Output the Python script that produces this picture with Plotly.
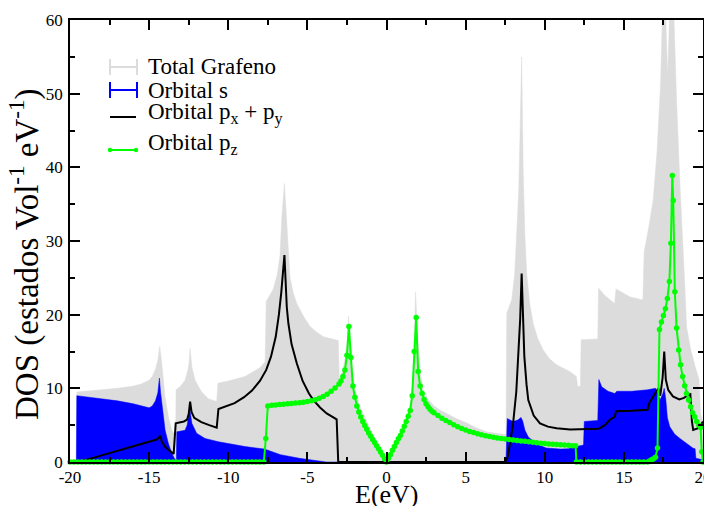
import plotly.graph_objects as go

# ---------------- data ----------------
E_total = [-20.0, -19.6, -19.57, -18.5, -17.0, -16.0, -15.5, -15.0, -14.8, -14.6, -14.45, -14.33,
           -14.2, -14.0, -13.78, -13.57, -13.42, -13.32, -13.3, -13.05, -12.73, -12.55, -12.48,
           -12.41, -12.3, -12.1, -11.68, -11.26, -10.73, -10.65, -10.0, -8.94, -8.0, -7.67, -7.6,
           -7.15, -6.9, -6.73, -6.62, -6.45, -6.3, -6.1, -5.9, -5.67, -5.2, -4.83, -4.4, -3.99,
           -3.15, -3.05, -2.98, -2.75, -2.6, -2.5, -2.4, -2.3, -2.2, -2.1, -2.0, -1.75, -1.47,
           -1.0, -0.62, -0.3, 0.0, 0.3, 0.6, 1.0, 1.3, 1.5, 1.65, 1.75, 1.84, 1.95, 2.01, 2.15,
           2.33, 2.6, 2.96, 3.4, 3.8, 4.4, 5.07, 5.7, 6.33, 7.0, 7.55, 7.6, 7.91, 8.1, 8.22, 8.35,
           8.43, 8.54, 8.64, 8.75, 8.86, 9.05, 9.27, 9.55, 9.9, 10.3, 10.75, 11.2, 11.6, 12.0,
           12.08, 12.25, 12.3, 13.35, 13.4, 13.8, 14.3, 14.42, 14.5, 15.0, 15.4, 16.2, 16.28,
           16.54, 16.85, 17.1, 17.32, 17.45, 17.55, 17.65, 17.76, 17.85, 17.95, 18.08, 18.16,
           18.33, 18.54, 18.71, 18.85, 18.96, 19.2, 19.5, 19.75, 19.85, 20.0]
total = [0.0, 0.0, 9.5, 9.7, 10.0, 10.3, 10.6, 11.1, 11.6, 12.6, 13.8, 15.7,
         13.4, 8.9, 6.15, 4.3, 3.9, 3.9, 9.8, 10.2, 11.1, 12.5, 13.4,
         15.4, 12.9, 11.1, 9.5, 8.6, 8.2, 10.7, 11.0, 11.6, 12.8, 13.6, 21.8,
         23.5, 25.5, 28.0, 33.0, 37.8, 31.9, 25.1, 23.0, 21.5, 19.6, 18.4, 17.6, 17.0,
         16.55, 16.5, 11.3, 12.5, 14.3, 16.0, 19.8, 16.5, 13.5, 11.5, 10.0, 7.9, 6.6,
         4.3, 2.6, 1.2, 0.0, 1.3, 2.8, 4.7, 6.3, 7.8, 11.0, 16.5, 23.1, 17.5, 15.6, 12.0,
         9.8, 8.6, 7.7, 7.0, 6.6, 5.9, 5.3, 4.6, 4.1, 3.85, 3.7, 20.2, 22.0, 25.5, 30.1, 36.5,
         43.7, 55.0, 39.2, 30.5, 25.6, 21.5, 18.8, 16.8, 15.2, 14.0, 13.2, 12.7, 12.25, 11.6,
         10.2, 10.3, 16.6, 16.7, 23.6, 22.6, 21.8, 21.5, 23.5, 22.9, 22.4, 22.0, 28.5,
         31.5, 35.5, 42.3, 51.4, 62.0, 66.0, 60.0, 52.5, 58.0, 66.0, 66.0, 60.0,
         49.1, 37.8, 31.0, 24.0, 18.4, 15.5, 13.0, 11.2, 6.5, 5.5]

E_s = [-20.0, -19.6, -19.57, -18.0, -17.0, -16.0, -15.5, -15.0, -14.8, -14.6, -14.45, -14.35,
       -14.28, -14.2, -13.99, -13.78, -13.57, -13.36, -13.28, -13.25, -12.73, -12.6, -12.52,
       -12.43, -12.35, -12.3, -12.0, -11.47, -10.62, -8.94, -7.7, -6.7, -5.5, -4.5, -3.8,
       7.55, 7.63, 8.0, 8.3, 8.5, 8.6, 8.75, 8.96, 9.5, 10.1, 11.0, 11.5, 12.0, 12.45, 12.5,
       13.35, 13.42, 13.6, 14.0, 14.43, 14.55, 15.5, 16.5, 17.0, 17.15, 17.28, 17.45, 17.55,
       17.65, 17.75, 17.9, 18.2, 18.54, 19.0, 19.38, 19.5, 19.55, 20.0]
s_orb = [0.0, 0.0, 9.0, 8.6, 8.3, 7.9, 7.6, 7.35, 7.6, 8.3, 9.4, 11.4,
         9.5, 8.0, 4.3, 2.5, 1.2, 0.3, 0.2, 4.1, 4.3, 5.0, 5.9,
         7.2, 6.0, 5.25, 3.9, 3.2, 2.75, 2.1, 1.75, 1.0, 0.5, 0.15, 0.0,
         0.0, 5.9, 5.5, 5.7, 6.05, 5.6, 4.3, 3.4, 2.4, 1.9, 1.75, 1.8, 2.1, 2.3, 5.5,
         5.65, 11.2, 10.2, 9.6, 9.3, 9.6, 9.6, 9.8, 10.0, 9.4, 8.4, 9.2, 10.0,
         8.5, 6.0, 4.8, 3.8, 3.2, 2.4, 1.86, 1.8, 0.5, 0.3]

E_pxy = [-20.0, -19.25, -18.0, -17.0, -16.0, -15.0, -14.52, -14.38, -14.31, -14.2, -14.0,
         -13.8, -13.6, -13.45, -13.32, -12.8, -12.6, -12.5, -12.41, -12.32, -12.15, -11.7,
         -11.2, -10.73, -10.62, -10.2, -9.6, -9.0, -8.5, -8.0, -7.6, -7.3, -7.0, -6.8, -6.65,
         -6.45, -6.3, -6.2, -6.0, -5.67, -5.3, -4.9, -4.62, -4.2, -3.78, -3.15, -3.05,
         7.5, 7.65, 7.8, 8.0, 8.2, 8.33, 8.45, 8.54, 8.62, 8.71, 8.85, 8.96, 9.3, 9.7, 10.2,
         10.75, 11.6, 12.5, 13.4, 13.8, 14.1, 14.43, 14.5, 15.5, 16.5, 16.6, 17.0, 17.18,
         17.3, 17.45, 17.55, 17.65, 17.8, 18.1, 18.5, 18.8, 19.07, 19.2, 19.3, 19.38, 19.7, 20.0]
pxy = [0.0, 0.1, 0.9, 1.5, 2.1, 2.7, 3.05, 3.3, 3.6, 2.8, 2.1,
       1.7, 1.35, 1.1, 5.25, 5.5, 5.75, 6.5, 8.2, 6.8, 6.0, 5.4,
       5.0, 4.65, 7.2, 7.5, 8.0, 8.8, 9.7, 11.0, 12.5, 14.3, 17.0, 20.0, 23.0,
       28.1, 21.0, 18.8, 16.0, 13.4, 11.0, 9.3, 8.4, 7.4, 6.6, 5.8, 0.0,
       0.0, 0.6, 2.5, 5.25, 9.5, 14.3, 19.5, 25.6, 19.5, 14.3, 10.5, 8.4, 6.3, 5.25, 4.8,
       4.57, 4.4, 4.4, 4.5, 5.0, 5.7, 6.15, 6.9, 6.95, 7.1, 8.0, 9.3, 10.0,
       9.0, 11.5, 15.0, 11.2, 9.8, 8.9, 8.5, 8.7, 9.1, 9.2, 5.5, 4.35, 4.6, 5.5]

E_pz = [-20.0, -19.75, -19.5, -19.25, -19.0, -18.75, -18.5, -18.25, -18.0, -17.75, -17.5,
        -17.25, -17.0, -16.75, -16.5, -16.25, -16.0, -15.75, -15.5, -15.25, -15.0, -14.75,
        -14.5, -14.25, -14.0, -13.75, -13.5, -13.25, -13.0, -12.75, -12.5, -12.25, -12.0,
        -11.75, -11.5, -11.25, -11.0, -10.75, -10.5, -10.25, -10.0, -9.75, -9.5, -9.25, -9.0,
        -8.75, -8.5, -8.25, -8.0, -7.75,
        -7.625, -7.5, -7.25, -7.0, -6.75, -6.5, -6.25, -6.0, -5.75, -5.5, -5.25, -5.0, -4.75,
        -4.5, -4.25, -4.0, -3.75, -3.5, -3.25, -3.0, -2.875, -2.75, -2.625, -2.5, -2.375,
        -2.25, -2.125, -2.0, -1.875, -1.75, -1.625, -1.5, -1.375, -1.25, -1.125, -1.0,
        -0.875, -0.75, -0.625, -0.5, -0.375, -0.25, -0.125, 0.0,
        0.125, 0.25, 0.375, 0.5, 0.625, 0.75, 0.875, 1.0, 1.125, 1.25, 1.375, 1.5, 1.625,
        1.75, 1.875, 2.0, 2.125, 2.25, 2.375, 2.5, 2.625, 2.75, 2.875, 3.0, 3.25, 3.5, 3.75,
        4.0, 4.25, 4.5, 4.75, 5.0, 5.25, 5.5, 5.75, 6.0, 6.25, 6.5, 6.75, 7.0, 7.25, 7.5,
        7.75, 8.0, 8.25, 8.5, 8.75, 9.0, 9.25, 9.5, 9.75, 10.0, 10.25, 10.5, 10.75, 11.0,
        11.25, 11.5, 11.75, 11.95, 12.0,
        12.25, 12.5, 12.75, 13.0, 13.25, 13.5, 13.75, 14.0, 14.25, 14.5, 14.75, 15.0, 15.25,
        15.5, 15.75, 16.0, 16.25, 16.5,
        16.625, 16.75, 16.875, 17.0, 17.125, 17.25, 17.375, 17.5, 17.625, 17.75, 17.875,
        17.97, 18.06, 18.12, 18.22, 18.33, 18.46, 18.58, 18.71, 18.84, 18.96, 19.09, 19.22,
        19.34, 19.47, 19.6, 19.74, 19.85, 19.92, 20.0]
pz = [0.0, 0.0, 0.0, 0.0, 0.0, 0.0, 0.0, 0.0, 0.0, 0.0, 0.0,
      0.0, 0.0, 0.0, 0.0, 0.0, 0.0, 0.0, 0.0, 0.0, 0.0, 0.0,
      0.0, 0.0, 0.0, 0.0, 0.0, 0.0, 0.0, 0.0, 0.0, 0.0, 0.0,
      0.0, 0.0, 0.0, 0.0, 0.0, 0.0, 0.0, 0.0, 0.0, 0.0, 0.0, 0.0,
      0.0, 0.0, 0.0, 0.0, 0.0,
      3.2, 7.6, 7.7, 7.75, 7.8, 7.85, 7.9, 7.95, 8.0, 8.05, 8.12, 8.2, 8.3,
      8.45, 8.65, 8.9, 9.2, 9.6, 10.05, 10.6, 11.0, 11.6, 12.5, 14.5, 18.4,
      14.2, 10.3, 8.8, 7.6, 6.8, 6.1, 5.5, 4.95, 4.45, 3.95, 3.5,
      3.05, 2.65, 2.2, 1.8, 1.35, 0.9, 0.45, 0.0,
      0.5, 1.0, 1.6, 2.1, 2.65, 3.15, 3.6, 4.2, 4.85, 5.5, 6.2, 7.0, 9.0,
      15.0, 19.6, 12.3, 10.3, 9.3, 8.5, 7.9, 7.5, 7.15, 6.9, 6.7, 6.3, 5.95, 5.65,
      5.35, 5.05, 4.8, 4.55, 4.35, 4.15, 4.0, 3.85, 3.7, 3.58, 3.46, 3.36, 3.27, 3.2, 3.12,
      3.05, 2.98, 2.92, 2.86, 2.8, 2.74, 2.68, 2.62, 2.56, 2.5, 2.46, 2.42, 2.38, 2.34,
      2.3, 2.26, 2.22, 2.2, 0.0,
      0.0, 0.0, 0.0, 0.0, 0.0, 0.0, 0.0, 0.0, 0.0, 0.0, 0.0, 0.0, 0.0,
      0.0, 0.0, 0.0, 0.0, 0.0,
      0.15, 0.3, 0.45, 0.65, 1.9, 18.0, 19.0, 19.9, 20.8, 22.2, 24.5,
      29.7, 38.9, 35.5, 23.1, 18.2, 15.2, 13.2, 11.6, 10.35, 9.3, 8.4, 7.5,
      6.7, 6.15, 5.5, 5.0, 4.7, 1.4, 0.0]

x_tickvals = [-20, -15, -10, -5, 0, 5, 10, 15, 20]
x_ticktext = ["-20", "-15", "-10", "-5", "0", "5", "10", "15", "20"]
x_minor = [-17.5, -12.5, -7.5, -2.5, 2.5, 7.5, 12.5, 17.5]
y_tickvals = [0, 10, 20, 30, 40, 50, 60]
y_ticktext = ["0", "10", "20", "30", "40", "50", "60"]
y_minor = [5, 15, 25, 35, 45, 55]

x_title = "E(eV)"
y_title = "DOS (estados Vol<sup>-1</sup> eV<sup>-1</sup>)"
legend_labels = ["Total Grafeno", "Orbital s",
                 "Orbital p<sub>x</sub> + p<sub>y</sub>", "Orbital p<sub>z</sub>"]

GRAY = "#dcdcdc"
BLUE = "#0000ff"
GREEN = "#00ff00"
FONT = "Liberation Serif"

fig = go.Figure()
fig.add_trace(go.Scatter(x=E_total, y=total, mode="lines", fill="tozeroy",
                         line=dict(color=GRAY, width=0.5), fillcolor=GRAY,
                         name=legend_labels[0], showlegend=False))
fig.add_trace(go.Scatter(x=E_s, y=s_orb, mode="lines", fill="tozeroy",
                         line=dict(color=BLUE, width=0.5), fillcolor=BLUE,
                         name=legend_labels[1], showlegend=False))
fig.add_trace(go.Scatter(x=E_pxy, y=pxy, mode="lines",
                         line=dict(color="black", width=2),
                         name=legend_labels[2], showlegend=False))
fig.add_trace(go.Scatter(x=E_pz, y=pz, mode="lines+markers",
                         line=dict(color=GREEN, width=2),
                         marker=dict(color=GREEN, size=5.5, line=dict(width=0)),
                         cliponaxis=False,
                         name=legend_labels[3], showlegend=False))

# The page shows the figure offset by the 8px body margin.
OFF = 8
W, H = 712 - OFF, 506 - OFF
# plot area on screen: x 70..703, y 20..462
L, R, T, B = 70 - OFF, 712 - 703, 20 - OFF, 506 - 462
pw, ph = W - L - R, H - T - B


def px(x):
    return (x - OFF - L) / pw


def py(y):
    return (H - B - (y - OFF)) / ph


shapes = []
# legend symbols (screen pixel positions)
for yy, col in [(67, GRAY), (90, BLUE)]:
    shapes.append(dict(type="line", xref="paper", yref="paper", x0=px(110), x1=px(137),
                       y0=py(yy), y1=py(yy), line=dict(color=col, width=2)))
    for xx in (110, 137):
        shapes.append(dict(type="line", xref="paper", yref="paper", x0=px(xx), x1=px(xx),
                           y0=py(yy - 8), y1=py(yy + 8), line=dict(color=col, width=2)))
shapes.append(dict(type="line", xref="paper", yref="paper", x0=px(110), x1=px(136),
                   y0=py(117), y1=py(117), line=dict(color="black", width=2)))
shapes.append(dict(type="line", xref="paper", yref="paper", x0=px(110), x1=px(136),
                   y0=py(150), y1=py(150), line=dict(color=GREEN, width=2)))
for xx in (110, 136):
    shapes.append(dict(type="circle", xref="paper", yref="paper", x0=px(xx - 2.2),
                       x1=px(xx + 2.2), y0=py(150 + 2.2), y1=py(150 - 2.2),
                       fillcolor=GREEN, line=dict(color=GREEN, width=0)))

annotations = []
for lab, yy in zip(legend_labels, [67, 90, 113, 144]):
    annotations.append(dict(text=lab, xref="paper", yref="paper", x=px(146), y=py(yy),
                            xanchor="left", yanchor="middle", showarrow=False,
                            font=dict(family=FONT, size=23, color="black")))
# axis titles
annotations.append(dict(text=y_title, xref="paper", yref="paper", x=px(24), y=py(254),
                        xanchor="center", yanchor="middle", textangle=-90, showarrow=False,
                        font=dict(family=FONT, size=33, color="black")))
annotations.append(dict(text=x_title, xref="paper", yref="paper", x=px(387), y=py(494),
                        xanchor="center", yanchor="middle", showarrow=False,
                        font=dict(family=FONT, size=26, color="black")))

axis_common = dict(showline=True, linecolor="black", linewidth=1.5, mirror="ticks",
                   ticks="inside", ticklen=10, tickwidth=1.5, tickcolor="black",
                   showgrid=False, zeroline=False,
                   tickfont=dict(family=FONT, size=17, color="black"))

fig.update_layout(
    width=W, height=H,
    margin=dict(l=L, r=R, t=T, b=B, autoexpand=False),
    paper_bgcolor="white", plot_bgcolor="white",
    showlegend=False,
    shapes=shapes, annotations=annotations,
    xaxis=dict(range=[-20, 20], tickmode="array", tickvals=x_tickvals, ticktext=x_ticktext,
               ticklabelstandoff=-1,
               minor=dict(tickvals=x_minor, ticks="inside", ticklen=5, tickwidth=1.5,
                          tickcolor="black", showgrid=False),
               **axis_common),
    yaxis=dict(range=[0, 60], tickmode="array", tickvals=y_tickvals, ticktext=y_ticktext,
               ticklabelstandoff=2,
               minor=dict(tickvals=y_minor, ticks="inside", ticklen=5, tickwidth=1.5,
                          tickcolor="black", showgrid=False),
               **axis_common),
)

fig.write_html("out.html")
